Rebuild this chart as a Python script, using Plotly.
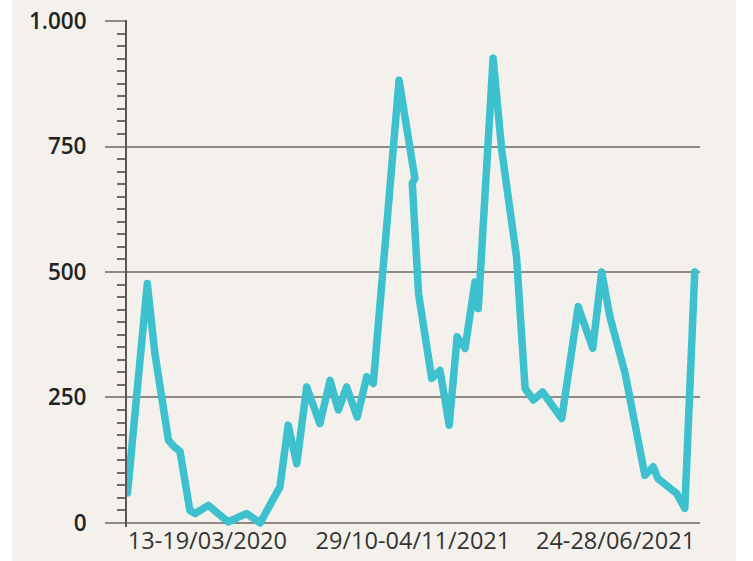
import plotly.graph_objects as go

# Week index (estimated) and values
weeks = [0, 6.0, 8.3, 10.4, 12.4, 14.1, 15.9, 18.9, 20.5, 24.5, 30.5, 36.1, 40.2,
         46.2, 48.7, 51.3, 54.3, 58.3, 61.4, 63.9, 66.4, 69.6, 72.5, 74.5, 82.3,
         87.1, 86.3, 88.2, 92.2, 94.7, 97.5, 99.9, 102.3, 105.3, 106.3, 110.8,
         113.4, 117.9, 120.5, 123.0, 125.8, 131.6, 136.6, 141.0, 143.7, 146.2,
         150.8, 156.8, 159.3, 160.8, 166.4, 168.9, 171.9]
values = [60, 477, 338, 239, 165, 152, 143, 25, 19, 35, 2, 19, 0,
          72, 195, 118, 271, 198, 284, 225, 271, 211, 291, 278, 882,
          686, 677, 457, 288, 304, 195, 371, 348, 480, 427, 926,
          743, 530, 268, 245, 261, 208, 431, 348, 500, 411,
          298, 95, 112, 88, 59, 29, 500]

x_tick_vals = [24.2, 86.5, 147.9]
x_tick_text = ["13-19/03/2020", "29/10-04/11/2021", "24-28/06/2021"]
y_tick_vals = [0, 250, 500, 750, 1000]
y_tick_text = ["0", "250", "500", "750", "1.000"]

BEIGE = "#F4F1EC"
GRID = "#8E8A86"
LINE = "#3DC1CF"

fig = go.Figure()
fig.add_trace(go.Scatter(
    x=weeks, y=values, mode="lines",
    line=dict(color=LINE, width=7.5, shape="linear"),
    hoverinfo="skip", showlegend=False,
))

# plot area geometry (px): left 127, right 700
L, R = 127, 700
W_FIG, H_FIG = 753, 561
top_px, bot_px = 20, 526.7
pw = R - L
ph = bot_px - top_px

fig.add_shape(type="rect", xref="paper", yref="paper",
              x0=(12 - L) / pw, x1=(736 - L) / pw,
              y0=-(H_FIG - bot_px) / ph - 0.02, y1=1 + top_px / ph + 0.02,
              fillcolor=BEIGE, line=dict(width=0), layer="below")

fig.update_layout(
    width=W_FIG, height=H_FIG,
    margin=dict(l=L, r=W_FIG - R, t=top_px, b=H_FIG - bot_px, pad=0, autoexpand=False),
    paper_bgcolor="white", plot_bgcolor=BEIGE,
    hovermode=False,
    xaxis=dict(
        range=[-0.15, 173.5], automargin=False, fixedrange=True,
        showgrid=False, zeroline=False, showline=False,
        tickmode="array", tickvals=x_tick_vals, ticktext=x_tick_text,
        ticks="", tickfont=dict(family="Open Sans", size=23.5, color="#333333"),
        ticklabelstandoff=-3,
    ),
    yaxis=dict(
        range=[-8, 1002], automargin=False, fixedrange=True,
        tickmode="array", tickvals=y_tick_vals, ticktext=y_tick_text,
        showgrid=True, gridcolor=GRID, gridwidth=1.5,
        zeroline=False,
        showline=True, linecolor="#5A5653", linewidth=2,
        ticks="outside", ticklen=20, tickcolor=GRID, tickwidth=1.5,
        ticklabelstandoff=14,
        tickfont=dict(family="Open Sans", size=22.5, color="#222222", weight=600),
        minor=dict(dtick=25, tick0=0, ticks="outside", ticklen=8,
                   tickcolor="#6E6A66", tickwidth=1.5, showgrid=False),
    ),
)

post = (
    "document.body.style.margin='0';document.body.style.overflow='hidden';"
    "document.querySelectorAll('.scatterlayer path.js-line').forEach(function(p){"
    "p.style.strokeLinejoin='round';p.style.strokeLinecap='round';});"
)

fig.write_html("out.html", config={"displayModeBar": False}, post_script=post)
